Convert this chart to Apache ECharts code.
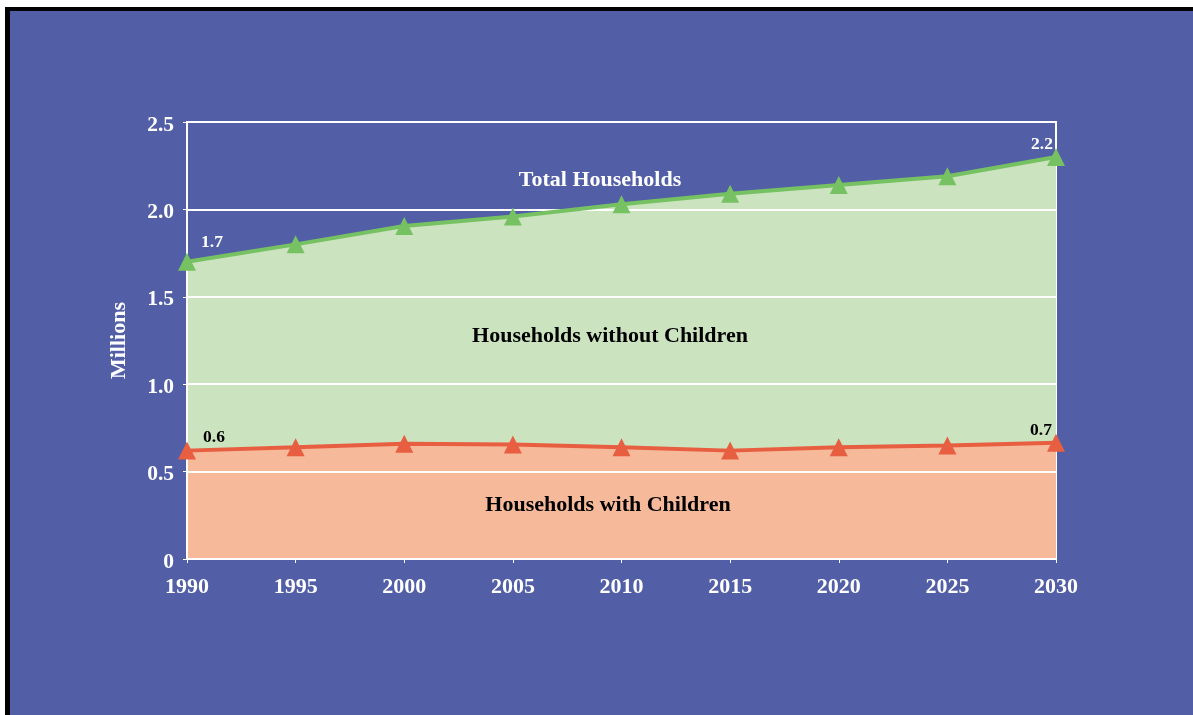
<!DOCTYPE html>
<html>
<head>
<meta charset="utf-8">
<script src="https://cdn.jsdelivr.net/npm/echarts@6/dist/echarts.min.js"></script>
<style>
html,body{margin:0;padding:0;background:#fff;}
#chart{position:absolute;left:0;top:0;width:1193px;height:715px;}
.fw{position:absolute;background:#fff;}
.fb{position:absolute;background:#000;}
</style>
</head>
<body>
<div id="chart"></div>
<div class="fw" style="left:0;top:0;width:5px;height:715px"></div>
<div class="fw" style="left:0;top:0;width:1193px;height:7px"></div>
<div class="fb" style="left:5px;top:7px;width:5px;height:708px"></div>
<div class="fb" style="left:5px;top:7px;width:1188px;height:4px"></div>
<script>
const years = ['1990','1995','2000','2005','2010','2015','2020','2025','2030'];
const totalHouseholds = [1.70, 1.80, 1.905, 1.96, 2.03, 2.09, 2.14, 2.19, 2.30];
const withChildren = [0.62, 0.64, 0.66, 0.655, 0.64, 0.62, 0.64, 0.65, 0.665];
const totalLabels = {0: '1.7', 8: '2.2'};
const childLabels = {0: '0.6', 8: '0.7'};
const yTicks = [0, 0.5, 1.0, 1.5, 2.0, 2.5];

const FONT = '"Liberation Serif", "Times New Roman", serif';
const BLUE = '#525FA6';
const GREEN = '#76C262', GREEN_FILL = '#CBE3BF';
const ORANGE = '#E85E40', ORANGE_FILL = '#F6B99A';

function withLabels(values, labels, color, offsets) {
  return values.map((v, i) => {
    if (labels[i] === undefined) return v;
    return {
      value: v,
      label: {
        show: true, position: 'top', formatter: labels[i],
        color: color, fontFamily: FONT, fontWeight: 'bold', fontSize: 17.5,
        offset: i === 0 ? offsets[0] : offsets[1]
      }
    };
  });
}

const chart = echarts.init(document.getElementById('chart'));
chart.setOption({
  backgroundColor: BLUE,
  animation: false,
  grid: {left: 187, right: 137, top: 122, bottom: 156, show: true,
         borderColor: '#fff', borderWidth: 2, backgroundColor: 'transparent'},
  xAxis: {
    type: 'category', data: years, boundaryGap: false, z: 3,
    axisLine: {lineStyle: {color: '#fff', width: 2}},
    axisTick: {show: true, length: 4, lineStyle: {color: '#fff', width: 1}},
    axisLabel: {color: '#fff', fontFamily: FONT, fontWeight: 'bold', fontSize: 22, margin: 17},
    splitLine: {show: false}
  },
  yAxis: {
    type: 'value', min: 0, max: 2.5, interval: 0.5, z: 3,
    name: 'Millions', nameLocation: 'middle', nameGap: 57, nameRotate: 90,
    nameTextStyle: {color: '#fff', fontFamily: FONT, fontWeight: 'bold', fontSize: 22},
    axisLine: {show: true, lineStyle: {color: '#fff', width: 2}},
    axisTick: {show: true, length: 4, lineStyle: {color: '#fff', width: 1}},
    axisLabel: {color: '#fff', fontFamily: FONT, fontWeight: 'bold', fontSize: 21.5, margin: 13,
      formatter: v => { const t = yTicks.find(x => Math.abs(x - v) < 1e-9); return '{s|' + (t === 0 ? '0' : t.toFixed(1)) + '}'; },
      rich: {s: {color: '#fff', fontFamily: FONT, fontWeight: 'bold', fontSize: 21.5, padding: [6, 0, 0, 0]}}},
    splitLine: {show: true, lineStyle: {color: '#fff', width: 2}}
  },
  series: [
    {name: 'Total area', type: 'line', data: totalHouseholds, z: 1, symbol: 'none',
     lineStyle: {width: 0}, areaStyle: {color: GREEN_FILL, opacity: 1}, silent: true},
    {name: 'Children area', type: 'line', data: withChildren, z: 1, symbol: 'none',
     lineStyle: {width: 0}, areaStyle: {color: ORANGE_FILL, opacity: 1}, silent: true},
    {name: 'Total Households', type: 'line', z: 5,
     data: withLabels(totalHouseholds, totalLabels, '#fff', [[25, 4], [-14, 11]]),
     symbol: 'triangle', symbolSize: 18,
     lineStyle: {color: GREEN, width: 4}, itemStyle: {color: GREEN}},
    {name: 'Households with Children', type: 'line', z: 5,
     data: withLabels(withChildren, childLabels, '#000', [[27, 10], [-15, 11]]),
     symbol: 'triangle', symbolSize: 18,
     lineStyle: {color: ORANGE, width: 4}, itemStyle: {color: ORANGE}}
  ],
  graphic: [
    {type: 'text', style: {text: 'Total Households', fill: '#fff',
      font: 'bold 22px ' + FONT, textAlign: 'center', textVerticalAlign: 'middle', x: 600, y: 180}, z: 10},
    {type: 'text', style: {text: 'Households without Children', fill: '#000',
      font: 'bold 22px ' + FONT, textAlign: 'center', textVerticalAlign: 'middle', x: 610, y: 336}, z: 10},
    {type: 'text', style: {text: 'Households with Children', fill: '#000',
      font: 'bold 22px ' + FONT, textAlign: 'center', textVerticalAlign: 'middle', x: 608, y: 505}, z: 10}
  ]
});
</script>
</body>
</html>
